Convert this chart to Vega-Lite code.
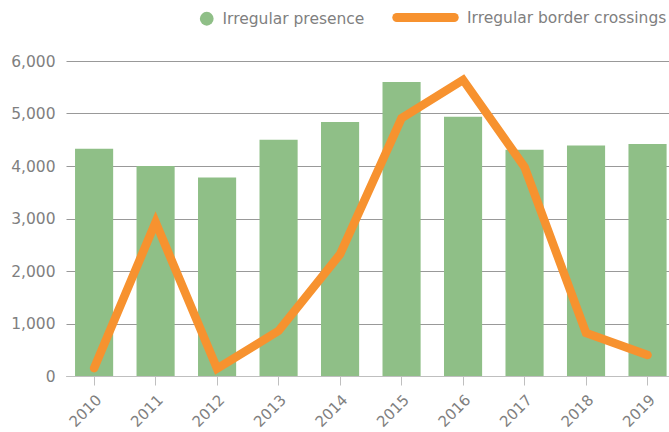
{
  "$schema": "https://vega.github.io/schema/vega-lite/v6.json",
  "autosize": {"type": "none"},
  "padding": {"left": 66, "top": 61, "right": 0, "bottom": 56},
  "width": 603,
  "height": 315,
  "background": "white",
  "config": {
    "view": {"stroke": null},
    "font": "DejaVu Sans",
    "axis": {"labelFont": "DejaVu Sans", "labelColor": "#7f7f7f", "labelFontSize": 15},
    "legend": {"labelFont": "DejaVu Sans", "labelColor": "#7f7f7f", "labelFontSize": 15.5, "labelLimit": 400}
  },
  "data": {
    "values": [
      {"year": "2010", "presence": 4330, "crossings": 150},
      {"year": "2011", "presence": 4000, "crossings": 2930},
      {"year": "2012", "presence": 3780, "crossings": 140},
      {"year": "2013", "presence": 4500, "crossings": 860},
      {"year": "2014", "presence": 4840, "crossings": 2320},
      {"year": "2015", "presence": 5600, "crossings": 4910},
      {"year": "2016", "presence": 4940, "crossings": 5640},
      {"year": "2017", "presence": 4310, "crossings": 3980},
      {"year": "2018", "presence": 4390, "crossings": 820},
      {"year": "2019", "presence": 4420, "crossings": 400}
    ]
  },
  "encoding": {
    "x": {
      "field": "year", "type": "ordinal",
      "scale": {"paddingInner": 0.38, "paddingOuter": 0.093, "align": 0.79},
      "axis": {"title": null, "labelAngle": -45, "domainColor": "#bfbfbf", "tickColor": "#bfbfbf", "tickSize": 9, "labelPadding": 7, "grid": false}
    }
  },
  "layer": [
    {
      "mark": {"type": "bar", "color": "#8fbf87"},
      "transform": [{"calculate": "'Irregular presence'", "as": "s1"}],
      "encoding": {
        "y": {
          "field": "presence", "type": "quantitative",
          "scale": {"domain": [0, 6000], "nice": false},
          "axis": {"title": null, "tickCount": 6, "format": ",d", "ticks": false, "domain": false, "gridColor": "#999999", "gridWidth": 1, "labelPadding": 11, "labelFontSize": 15.5}
        },
        "fill": {
          "field": "s1", "type": "nominal",
          "scale": {"range": ["#8fbf87"]},
          "legend": {"title": null, "orient": "none", "legendX": 133, "legendY": -50, "symbolType": "circle", "symbolSize": 190, "symbolStrokeWidth": 0, "labelOffset": 8}
        }
      }
    },
    {
      "mark": {"type": "line", "color": "#f7922f", "strokeWidth": 8.5, "strokeCap": "round", "strokeJoin": "miter"},
      "transform": [{"calculate": "'Irregular border crossings'", "as": "s2"}],
      "encoding": {
        "y": {"field": "crossings", "type": "quantitative"},
        "stroke": {
          "field": "s2", "type": "nominal",
          "scale": {"range": ["#f7922f"]},
          "legend": {"title": null, "orient": "none", "legendX": 326, "legendY": -77, "symbolType": "stroke", "symbolSize": 3300, "symbolStrokeWidth": 9, "labelOffset": 8,
            "encode": {"symbols": {"update": {"strokeCap": {"value": "round"}}}}}
        }
      }
    }
  ],
  "resolve": {"scale": {"fill": "independent", "stroke": "independent"}}
}
